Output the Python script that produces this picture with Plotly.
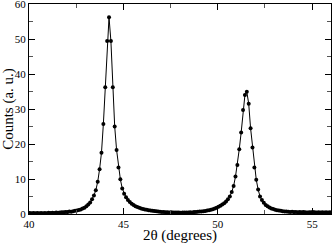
import plotly.graph_objects as go

# Sampling grid (2-theta, degrees)
x_start = 40.04
x_step = 0.1
counts = [
    0.30, 0.25, 0.32, 0.20, 0.28, 0.22, 0.30, 0.18, 0.27, 0.24,
    0.33, 0.26, 0.35, 0.30, 0.40, 0.36, 0.45, 0.52, 0.48, 0.60,
    0.55, 0.70, 0.66, 0.80, 0.90, 1.00, 1.15, 1.30, 1.55, 1.80,
    2.20, 2.70, 3.30, 4.20, 5.30, 6.80, 9.20, 12.8, 17.5, 25.7,
    36.2, 49.4, 56.2, 49.4, 36.2, 25.0, 18.3, 13.3, 9.9, 7.3,
    5.8, 4.8, 4.0, 3.4, 2.9, 2.55, 2.25, 2.0, 1.8, 1.6,
    1.45, 1.3, 1.2, 1.1, 1.0, 0.92, 0.85, 0.78, 0.72, 0.66,
    0.60, 0.58, 0.52, 0.50, 0.45, 0.48, 0.42, 0.46, 0.40, 0.44,
    0.38, 0.45, 0.40, 0.46, 0.42, 0.50, 0.46, 0.55, 0.58, 0.62,
    0.68, 0.74, 0.80, 0.88, 0.98, 1.08, 1.20, 1.35, 1.55, 1.80,
    2.05, 2.35, 2.70, 3.10, 3.60, 4.20, 5.00, 6.30, 8.00, 10.7,
    14.0, 18.5, 23.3, 29.7, 34.0, 34.9, 31.5, 24.5, 19.0, 13.3,
    9.8, 7.0, 5.0, 4.0, 3.2, 2.6, 2.2, 1.85, 1.6, 1.4,
    1.25, 1.1, 1.0, 0.9, 0.82, 0.75, 0.70, 0.65, 0.60, 0.62,
    0.55, 0.58, 0.50, 0.56, 0.48, 0.55, 0.50, 0.45, 0.52, 0.47,
    0.55, 0.48, 0.44, 0.52, 0.46, 0.50, 0.43, 0.50, 0.45, 0.48,
]
two_theta = [round(x_start + x_step * i, 2) for i in range(len(counts))]

x_ticks = [40, 45, 50, 55]
y_ticks = [0, 10, 20, 30, 40, 50, 60]

font_family = "Liberation Serif"

fig = go.Figure(go.Scatter(
    x=two_theta, y=counts, mode="lines+markers",
    line=dict(color="black", width=1),
    marker=dict(color="black", size=4, symbol="circle"),
    showlegend=False,
))

axis_common = dict(
    showline=True, linecolor="black", linewidth=1, mirror="allticks",
    ticks="inside", ticklen=6, tickcolor="black", tickwidth=1,
    showgrid=False, zeroline=False, ticklabeloverflow="allow",
    tickfont=dict(family=font_family, size=11, color="black"),
)

fig.update_xaxes(
    range=[40, 56], tickvals=x_ticks, ticktext=[str(v) for v in x_ticks],
    minor=dict(dtick=2.5, tick0=40, ticks="inside", ticklen=4, tickcolor="#555", tickwidth=1),
    title=dict(text="2θ (degrees)", font=dict(family=font_family, size=15, color="black"), standoff=1),
    **axis_common,
)
fig.update_yaxes(
    range=[0, 60], tickvals=y_ticks, ticktext=[str(v) for v in y_ticks],
    minor=dict(dtick=5, tick0=0, ticks="inside", ticklen=4, tickcolor="#555", tickwidth=1),
    title=dict(text="Counts (a. u.)", font=dict(family=font_family, size=15, color="black"), standoff=1),
    **axis_common,
)

fig.update_layout(
    width=332, height=244,
    margin=dict(l=29, r=1, t=4, b=30, autoexpand=False),
    paper_bgcolor="white", plot_bgcolor="white",
    font=dict(family=font_family, color="black"),
)

fig.write_html(
    "out.html",
    config={"displayModeBar": False},
    post_script="document.body.style.margin='0';document.body.style.padding='0';",
)
